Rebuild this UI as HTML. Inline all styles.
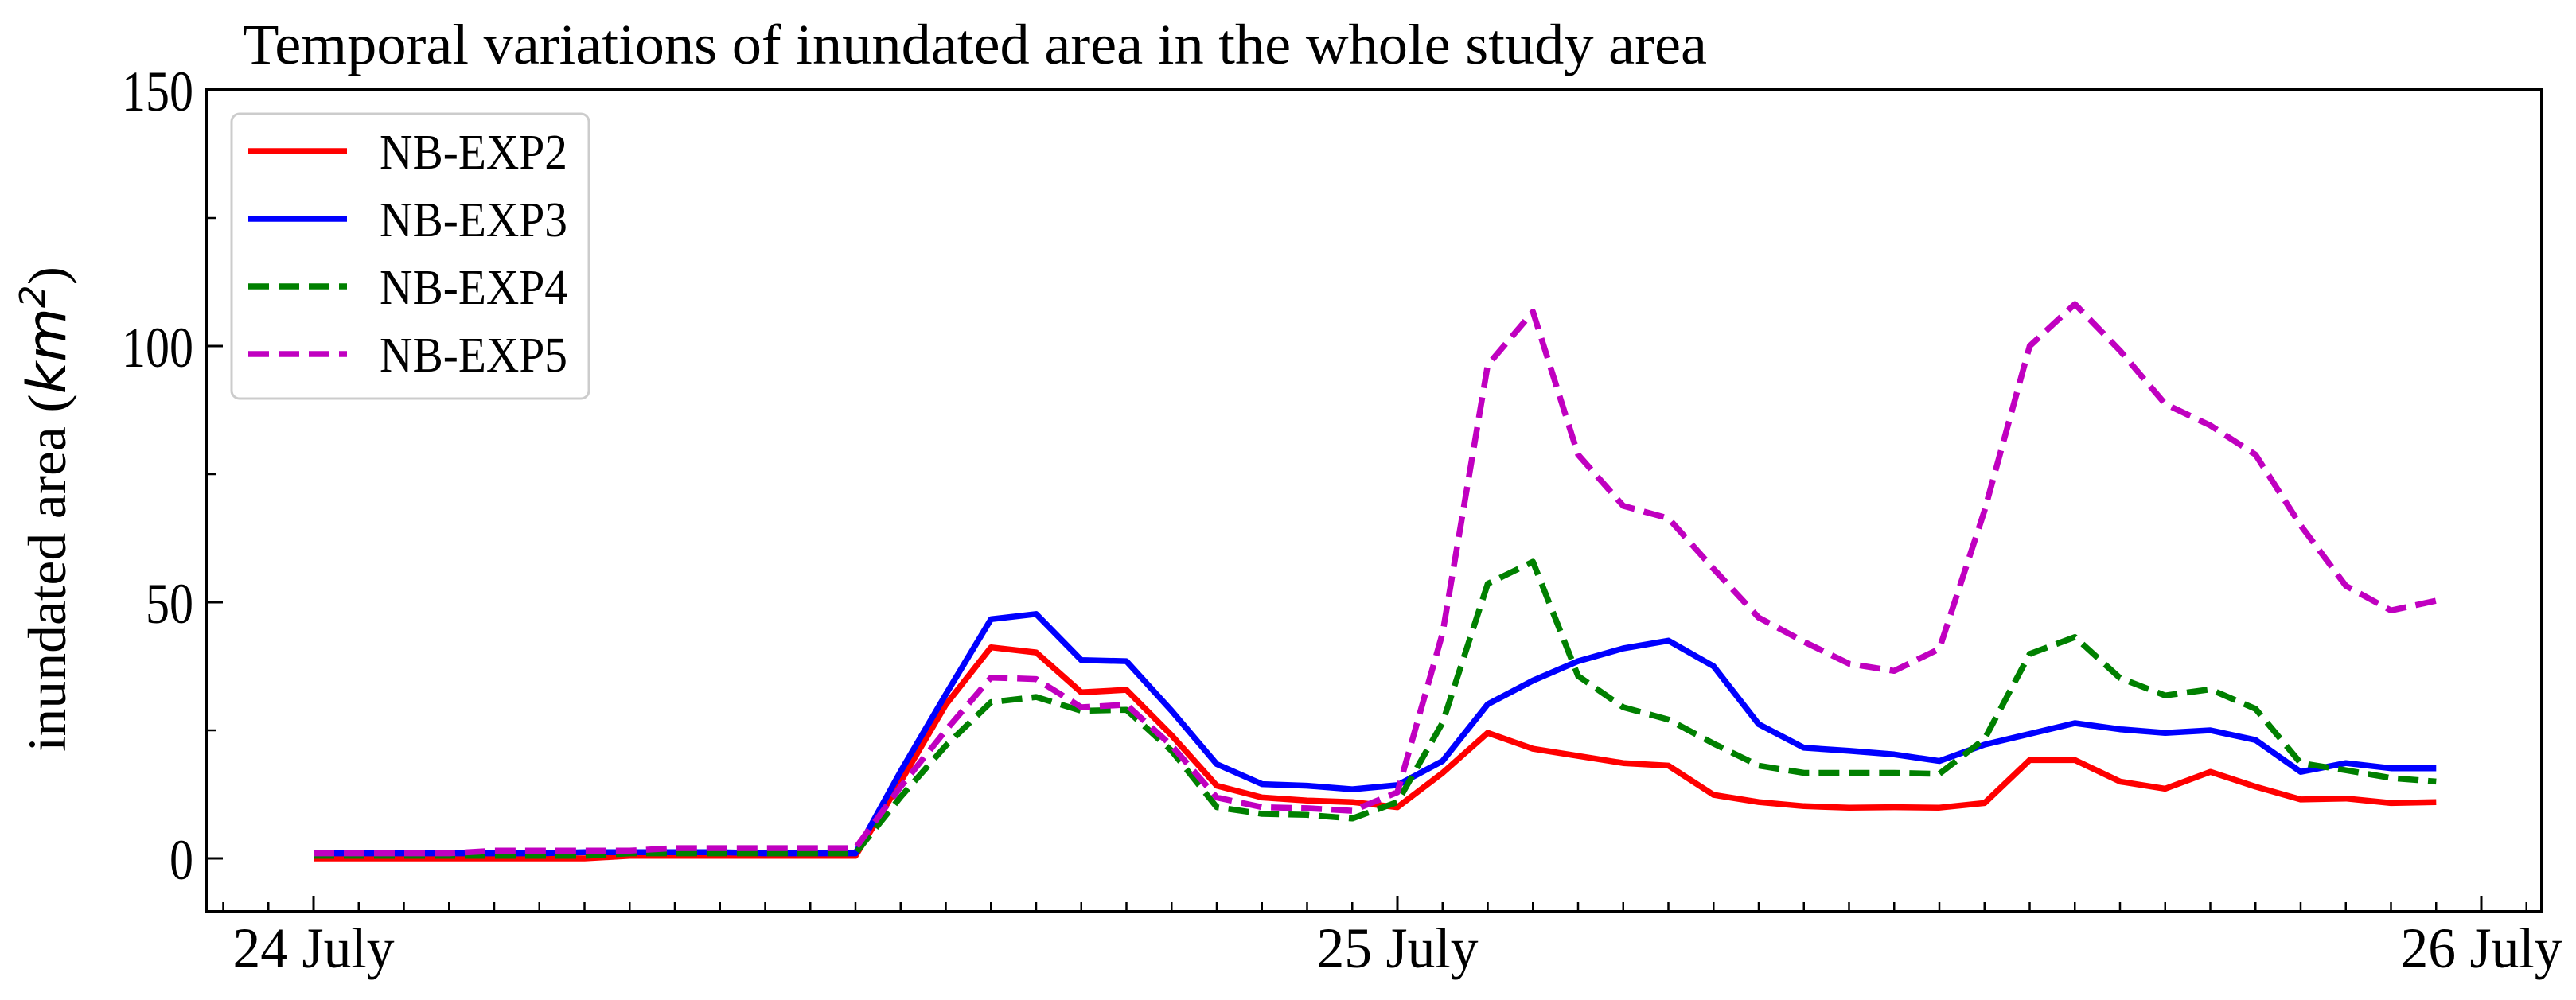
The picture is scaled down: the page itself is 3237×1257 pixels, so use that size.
<!DOCTYPE html>
<html><head><meta charset="utf-8"><style>
html,body{margin:0;padding:0;background:#fff;}
svg{display:block;}
text{font-family:"Liberation Serif",serif;fill:#000;}
</style></head><body>
<svg id="chart" width="3237" height="1257" viewBox="0 0 3237 1257" xmlns="http://www.w3.org/2000/svg">
<text x="305" y="80" font-size="72" textLength="1840" lengthAdjust="spacingAndGlyphs">Temporal variations of inundated area in the whole study area</text>
<text transform="translate(82,640) rotate(-90)" text-anchor="middle" font-size="68" textLength="610" lengthAdjust="spacingAndGlyphs">inundated area (<tspan font-family="DejaVu Sans, sans-serif" font-style="italic">km</tspan><tspan font-family="DejaVu Sans, sans-serif" font-style="italic" font-size="44" dy="-26">2</tspan><tspan dy="26">)</tspan></text>
<g id="marks"></g>
<g id="axes"></g>
<g id="legend"></g>
</svg>
<script>
const hours = Array.from({length:48},(_,i)=>i);
const exp2 = [0,0,0,0,0,0,0,0.5,0.5,0.5,0.5,0.5,0.5,15,30,41.2,40.2,32.4,32.9,24,14.2,11.9,11.3,11,10,16.7,24.5,21.4,20,18.6,18.1,12.4,11,10.2,9.9,10,9.9,10.8,19.2,19.2,15,13.6,16.9,14,11.5,11.7,10.8,11];
const exp3 = [1,1,1,1,1,1,1.2,1.2,1.2,1.2,1,1,1,17,32,46.7,47.7,38.7,38.5,28.8,18.4,14.5,14.2,13.5,14.3,19,30.1,34.7,38.5,41,42.5,37.5,26.2,21.6,21,20.3,19,22.2,24.3,26.4,25.2,24.5,25,23.1,16.9,18.6,17.6,17.6];
const exp4 = [0.5,0.5,0.5,0.5,0.5,0.5,0.5,1,1,1,1,1,1,12,22,30.5,31.5,28.8,29,21,10,8.7,8.5,7.8,11,26.5,53.6,57.9,35.6,29.5,27.1,22.4,18.1,16.7,16.7,16.7,16.5,23.3,39.9,43.2,35.2,31.8,33,29.2,18.6,17.2,15.7,15];
const exp5 = [1,1,1,1,1.5,1.5,1.5,1.5,2,2,2,2,2,14,25,35.3,35,29.5,30,22,11.9,10,9.8,9.3,12.9,44,96.3,106.7,78.8,68.8,66.4,56.5,47,42.3,38,36.6,40.9,67.9,100,108.2,99.1,88.7,84.5,78.8,65,53.2,48.4,50.3];
const yTicks = [0,50,100,150];
const yMinorTicks = [25,75,125];
const xTickHours = [0,24,48];
const xTickLabels = ["24 July","25 July","26 July"];
const seriesNames = ["NB-EXP2","NB-EXP3","NB-EXP4","NB-EXP5"];

const NS="http://www.w3.org/2000/svg";
const L=260,R=3194,T=112,B=1146;
const xs=h=>394+h*(1362/24);
const ys=v=>1079-v*6.44;
function mk(tag,attrs,parent){const e=document.createElementNS(NS,tag);for(const k in attrs)e.setAttribute(k,attrs[k]);parent.appendChild(e);return e;}
const marks=document.getElementById('marks'),axes=document.getElementById('axes'),leg=document.getElementById('legend');
const styles=[{c:'#ff0000',d:null},{c:'#0000ff',d:null},{c:'#008000',d:'26 12'},{c:'#c000c0',d:'26 12'}];
const data=[exp2,exp3,exp4,exp5];
[0,1,2,3].forEach(i=>{
  const pts=hours.map((h,j)=>xs(h).toFixed(1)+','+ys(data[i][j]).toFixed(1)).join(' ');
  const p=mk('polyline',{points:pts,fill:'none',stroke:styles[i].c,'stroke-width':7.5,'stroke-linejoin':'round'},marks);
  if(styles[i].d)p.setAttribute('stroke-dasharray',styles[i].d);
  
  
});
const fr=mk('rect',{x:L,y:T,width:R-L,height:B-T,fill:'none',stroke:'#000','stroke-width':4},axes);


yTicks.forEach(v=>{
  const t=mk('line',{x1:L,x2:L+20,y1:ys(v),y2:ys(v),stroke:'#000','stroke-width':3},axes);
  
  
  const s=String(v);
  const tx=mk('text',{x:243,y:ys(v)+26,'text-anchor':'end','font-size':72,textLength:s.length*30,lengthAdjust:'spacingAndGlyphs'},axes);
  tx.textContent=s;
  
  
});
yMinorTicks.forEach(v=>{
  const t=mk('line',{x1:L,x2:L+12,y1:ys(v),y2:ys(v),stroke:'#000','stroke-width':2.5},axes);
  
  
});
for(let h=-2;h<=49;h++){
  const x=xs(h); if(x<=L+2||x>=R-2)continue;
  const major=xTickHours.includes(h);
  const t=mk('line',{x1:x,x2:x,y1:B,y2:B-(major?20:12),stroke:'#000','stroke-width':major?3:2.5},axes);
  
  
}
xTickHours.forEach((h,i)=>{
  const tx=mk('text',{x:xs(h),y:1216,'text-anchor':'middle','font-size':72,textLength:203,lengthAdjust:'spacingAndGlyphs'},axes);
  tx.textContent=xTickLabels[i];
  
  
});
const lb=mk('rect',{x:291,y:143,width:449,height:358,rx:10,fill:'#fff','fill-opacity':0.85,stroke:'#cccccc','stroke-width':3},leg);


seriesNames.forEach((n,i)=>{
  const y=190+i*85;
  const l=mk('line',{x1:312,x2:436,y1:y,y2:y,stroke:styles[i].c,'stroke-width':7.5},leg);
  if(styles[i].d)l.setAttribute('stroke-dasharray',styles[i].d);
  
  
  const tx=mk('text',{x:477,y:y+22,'font-size':62,textLength:236,lengthAdjust:'spacingAndGlyphs'},leg);
  tx.textContent=n;
  
  
});
</script>
</body></html>
